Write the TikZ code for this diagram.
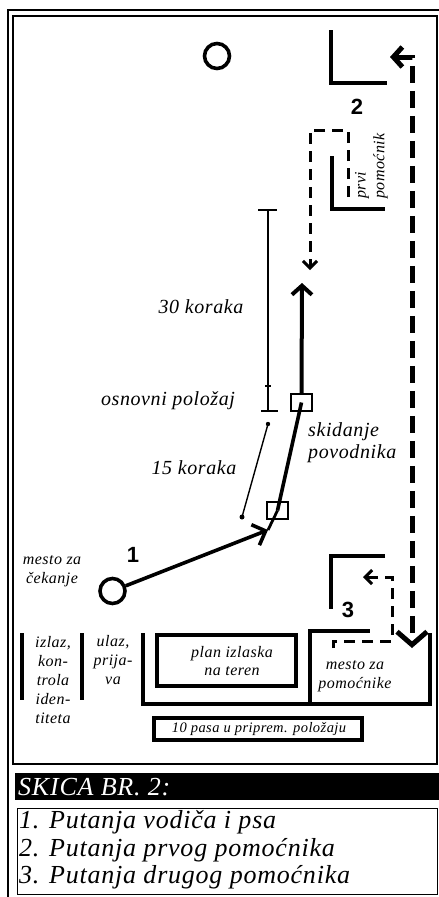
\documentclass[tikz,border=0pt]{standalone}
\usepackage{fontspec}
\setmainfont{Liberation Serif}[ItalicFeatures={LetterSpace=3}]
\newfontfamily\numfont{Liberation Sans}
\usetikzlibrary{arrows.meta}
\begin{document}
\begin{tikzpicture}[x=1pt,y=-1pt,
  frameline/.style={line width=1.3pt},
  thk/.style={line width=3.6pt},
  bigdash/.style={line width=5pt,dash pattern=on 17pt off 8pt},
  smdash/.style={line width=3pt,dash pattern=on 11pt off 7pt},
  lbl/.style={font=\fontsize{20}{22}\selectfont\itshape, inner sep=0pt},
  slbl/.style={font=\fontsize{16}{18.8}\selectfont\itshape, inner sep=0pt, align=center},
  leg/.style={font=\fontsize{26}{27}\selectfont\itshape, inner sep=0pt, anchor=west},
  num/.style={font=\fontsize{22}{24}\selectfont\numfont\bfseries, inner sep=0pt},
  spot/.style={circle, draw, line width=3.6pt, minimum size=25pt, inner sep=0pt},
  sq/.style={draw, line width=2.2pt, minimum width=21pt, minimum height=17pt, inner sep=0pt},
  boxline/.style={line width=4.5pt}
]
\useasboundingbox (0,0) rectangle (439,897);
% frames
\draw[frameline] (8,897) -- (8,10) -- (439,10);
\draw[line width=1.8pt] (13,16) rectangle (437,764);
\fill[black] (15,773) rectangle (439,800);
\draw[line width=1pt] (17,808) rectangle (437,894);
\node[leg, text=white] (title) at (18,787) {SKICA BR. 2:};
\node[leg] (l1) at (19,822) {1. Putanja vodiča i psa};
\node[leg] (l2) at (19,850) {2. Putanja prvog pomoćnika};
\node[leg] (l3) at (19,877) {3. Putanja drugog pomoćnika};

% circles
\node[spot] (ctop) at (217,56) {};
\node[spot] (cwait) at (112.5,591) {};

% L shapes
\draw[thk] (331,30) -- (331,83) -- (387,83);
\draw[thk] (332,156) -- (332,209) -- (385,209);
\draw[thk] (385,556) -- (331,556) -- (331,609);
\node[num] (n2) at (357,107) {2};
\node[num] (n3) at (348,610) {3};
\node[num] (n1) at (133,555) {1};

% path 2 (big dashed)
\coordinate (p2top) at (390,57);
\coordinate (p2corner) at (412,57);
\coordinate (p2bot) at (412,648);
\draw[bigdash, {Straight Barb[length=9pt,width=20pt]}-{Straight Barb[length=13pt,width=30pt]}] (p2top) -- (p2corner) -- (p2bot);

% path 2 small dashed
\coordinate (s2a) at (348,197);
\coordinate (s2b) at (348,130);
\coordinate (s2c) at (310,130);
\coordinate (s2d) at (310,270);
\draw[smdash, -{Straight Barb[length=7pt,width=14pt]}] (s2a) -- (s2b) -- (s2c) -- (s2d);
\node[slbl, rotate=90, align=left, anchor=south west] (prvi) at (388,199) {prvi\\pomoćnik};

% path 3 dashed
\coordinate (t3a) at (333,648);
\coordinate (t3b) at (333,641);
\coordinate (t3c) at (392,641);
\coordinate (t3d) at (392,577);
\coordinate (t3e) at (363,577);
\draw[smdash, -{Straight Barb[length=7pt,width=14pt]}] (t3a) -- (t3b) -- (t3c) -- (t3d) -- (t3e);

% path 1
\node[sq] (sqlow) at (277.5,510.5) {};
\node[sq] (squp) at (301.5,402.5) {};
\coordinate (a1tip) at (268,530);
\draw[thk, -{Straight Barb[length=11pt,width=22pt]}] (cwait) -- (a1tip);
\draw[line width=2.8pt] (a1tip) -- (sqlow.center);
\draw[thk] (sqlow.center) -- (squp.center);
\coordinate (upTip) at (302,283);
\draw[line width=4pt, -{Straight Barb[length=9pt,width=20pt]}] (squp.north) -- (upTip);

% measurement bar
\coordinate (mtop) at (268,210);
\coordinate (mbot) at (268,411);
\draw[line width=1.5pt] (mtop) -- (mbot);
\draw[line width=1.8pt] (258,210) -- (277,210);
\draw[line width=2.8pt] (261,411) -- (278,411);
\draw[line width=1.2pt] (265,386) -- (271,386);
\coordinate (k15a) at (268,424);
\coordinate (k15b) at (242,517);
\draw[line width=1.4pt] (k15a) -- (k15b);
\fill (k15a) circle (2.2pt) (k15b) circle (2.5pt);

% labels
\node[lbl] (k30) at (201,307) {30 koraka};
\node[lbl] (osn) at (168,401) {osnovni položaj};
\node[lbl] (k15) at (194,468) {15 koraka};
\node[lbl, align=left, anchor=west] (skid) at (308,443) {skidanje\\povodnika};
\node[slbl] (wait) at (52,571) {mesto za\\čekanje};

% bottom structures
\draw[line width=4.8pt] (22,633) -- (22,700);
\draw[line width=4.8pt] (82,633) -- (82,700);
\node[slbl] (izlaz) at (53,680) {izlaz,\\kon-\\trola\\iden-\\titeta};
\node[slbl] (ulaz) at (113,660) {ulaz,\\prija-\\va};
\draw[line width=3.8pt] (143,633) -- (143,704) -- (430,704) -- (430,633);
\draw[line width=3.8pt] (310,704) -- (310,631) -- (370,631);
\draw[boxline] (157,635) rectangle (296,686);
\node[slbl] (plan) at (232,661) {plan izlaska\\na teren};
\node[slbl] (pom) at (355,676) {mesto za\\pomoćnike};
\draw[boxline] (154,718) rectangle (362,740);
\node[slbl, font=\fontsize{14.5}{17}\selectfont\itshape] (pasa) at (259,729) {10 pasa u priprem. položaju};
\end{tikzpicture}
\end{document}
